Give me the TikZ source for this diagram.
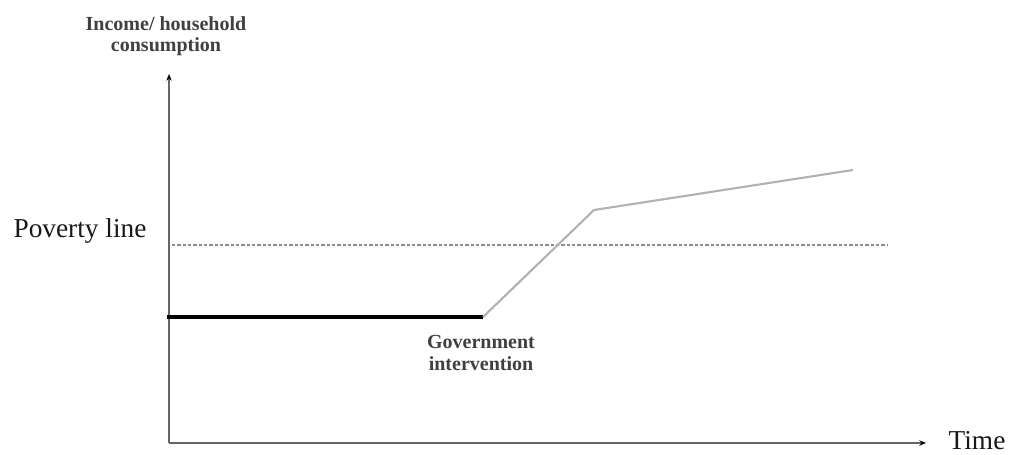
\documentclass[tikz,border=0pt]{standalone}
\usepackage{fontspec}
\setmainfont{Liberation Serif}
\usetikzlibrary{arrows.meta}
\tikzset{every picture/.style={line width=0.75pt}}
\tikzset{axisline/.style={draw=black!60, line width=1.6pt, -{Stealth[length=5pt,width=4pt,black]}},
  smalltext/.style={font=\bfseries\fontsize{15}{16}\selectfont, align=center, inner sep=0.75pt, text=black!75},
  bigtext/.style={font=\fontsize{20.5}{24}\selectfont, inner sep=0.75pt, text=black!90}}

\begin{document}
\begin{tikzpicture}[x=0.75pt,y=0.75pt,yscale=-1,xscale=1]
\path[use as bounding box] (0,0) rectangle (1009,454); %set diagram to the size of the reference

\coordinate (origin) at (169,443);
\coordinate (ytip) at (169,74);
\coordinate (xtip) at (926,443);
\coordinate (start) at (167,317);
\coordinate (kink) at (483,317);
\coordinate (rise) at (594,210);
\coordinate (end) at (853,170);
\coordinate (povstart) at (172,245);
\coordinate (povend) at (888,245);

%Axes
\draw [axisline] (origin) -- (ytip) ;
\draw [axisline] (origin) -- (xtip) ;
%Poverty line dotted
\draw [black!45, line width=1pt, dash pattern=on 2.5pt off 1.5pt] (povstart) -- (povend) ;
%Income before intervention
\draw [black, line width=2.4pt] (start) -- (kink) ;
%Income after intervention
\draw [black!30, line width=1.6pt] (kink) -- (rise) -- (end) ;

% Text Node
\draw (166,36) node (ylabel) [smalltext] {Income/ household\\consumption};
% Text Node
\draw (80,231) node (povlabel) [bigtext] {Poverty line};
% Text Node
\draw (481,353) node (govlabel) [smalltext] {Government\\intervention};
% Text Node
\draw (977,441) node (xlabel) [bigtext] {Time};

\end{tikzpicture}
\end{document}
